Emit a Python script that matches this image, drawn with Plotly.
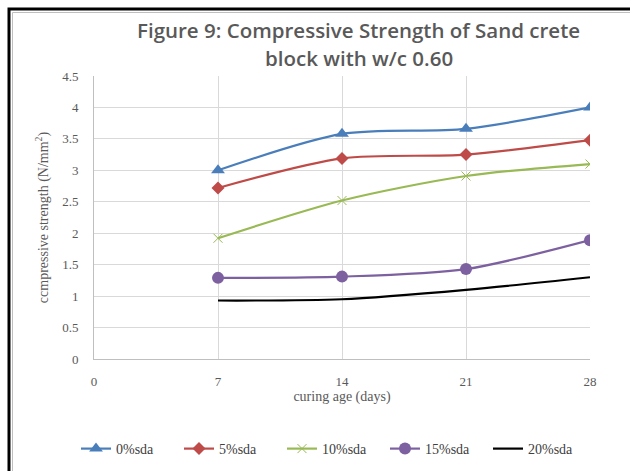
import plotly.graph_objects as go

days = [7, 14, 21, 28]
sda0 = [3.00, 3.58, 3.66, 4.00]
sda5 = [2.72, 3.19, 3.25, 3.48]
sda10 = [1.92, 2.52, 2.91, 3.10]
sda15 = [1.29, 1.31, 1.43, 1.89]
sda20 = [0.93, 0.95, 1.10, 1.30]
names = ["0%sda", "5%sda", "10%sda", "15%sda", "20%sda"]
x_ticks = [0, 7, 14, 21, 28]

W, H = 630, 471
L, R, T, B = 94, 40, 76, 112
pw, ph = W - L - R, H - T - B

def px(x):
    return (x - L) / pw

def py(y):
    return (H - B - y) / ph

fig = go.Figure()
series = [
    (sda0, names[0], "#4a7ebb", dict(symbol="triangle-up", size=12)),
    (sda5, names[1], "#be4b48", dict(symbol="diamond", size=10)),
    (sda10, names[2], "#98b954", dict(symbol="x-thin-open", size=9, line=dict(width=1, color="#98b954"))),
    (sda15, names[3], "#7d60a0", dict(symbol="circle", size=12)),
]
for vals, nm, col, mk in series:
    fig.add_trace(go.Scatter(
        x=days, y=vals, name=nm, mode="lines+markers",
        line=dict(color=col, width=2.2, shape="spline", smoothing=0.8),
        marker=dict(color=col, **mk),
    ))
fig.add_trace(go.Scatter(
    x=days, y=sda20, name=names[4], mode="lines",
    line=dict(color="black", width=2.2, shape="spline", smoothing=0.8),
))

tick_font = dict(family="Liberation Serif", size=13, color="#595959")
fig.update_layout(
    width=W, height=H,
    margin=dict(l=L, r=R, t=T, b=B, autoexpand=False),
    paper_bgcolor="white", plot_bgcolor="white",
    showlegend=True,
    legend=dict(orientation="h", x=px(76), xanchor="left", y=py(449), yanchor="middle",
                font=dict(family="Liberation Serif", size=14, color="#404040"),
                entrywidth=58, entrywidthmode="pixels", tracegroupgap=0),
    font=dict(family="Liberation Serif", color="#595959"),
    xaxis=dict(range=[0, 28], tickvals=x_ticks, ticktext=[str(v) for v in x_ticks],
               showgrid=True, gridcolor="#d9d9d9", gridwidth=1,
               showline=True, linecolor="#bfbfbf", zeroline=False, ticks="",
               ticklabelstandoff=10,
               tickfont=tick_font,
               title=dict(text="curing age (days)", standoff=2,
                          font=dict(family="Liberation Serif", size=14, color="#595959"))),
    yaxis=dict(range=[0, 4.5], dtick=0.5, showgrid=True, gridcolor="#d9d9d9", gridwidth=1,
               showline=True, linecolor="#bfbfbf", zeroline=False, ticks="",
               ticklabelstandoff=12,
               tickfont=tick_font,
               title=dict(text="ccmpressive strength (N/mm<sup>2</sup>)", standoff=10,
                          font=dict(family="Liberation Serif", size=14, color="#595959"))),
    annotations=[
        dict(text="Figure 9: Compressive Strength of Sand crete", xref="paper", yref="paper",
             x=px(358), y=py(30), xanchor="center", yanchor="middle", showarrow=False,
             font=dict(family="Open Sans", size=20.5, color="#595959", weight=600)),
        dict(text="block with w/c 0.60", xref="paper", yref="paper",
             x=px(359), y=py(58), xanchor="center", yanchor="middle", showarrow=False,
             font=dict(family="Open Sans", size=20.5, color="#595959", weight=600)),
    ],
    shapes=[
        dict(type="path", xref="paper", yref="paper",
             path=f"M {px(9)},{py(480)} L {px(9)},{py(9)} L {px(640)},{py(9)}",
             line=dict(color="black", width=3)),
        dict(type="path", xref="paper", yref="paper",
             path=f"M {px(12.5)},{py(480)} L {px(12.5)},{py(12.5)} L {px(640)},{py(12.5)}",
             line=dict(color="#bfbfbf", width=1)),
    ],
)

fig.write_html("out.html")
